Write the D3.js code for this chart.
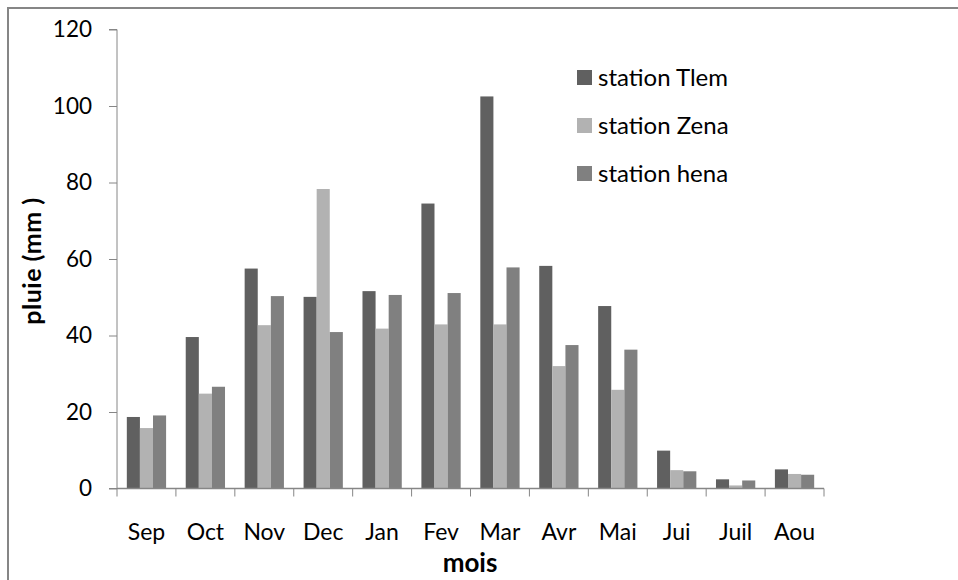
<!DOCTYPE html>
<html><head><meta charset="utf-8">
<script src="https://cdn.jsdelivr.net/npm/d3@7"></script>
<style>body{margin:0;background:#fff}svg{display:block}text{font-family:Lato,"Open Sans",sans-serif}</style>
</head><body><svg id="c" width="958" height="580"></svg>
<script>
const months = ["Sep","Oct","Nov","Dec","Jan","Fev","Mar","Avr","Mai","Jui","Juil","Aou"];
const seriesNames = ["station Tlem","station Zena","station hena"];
const tlem = [18.7,39.6,57.5,50.1,51.6,74.5,102.5,58.2,47.7,9.9,2.4,5.0];
const zena = [15.8,24.8,42.7,78.3,41.8,42.9,42.9,32.0,25.8,4.8,0.8,3.8];
const hena = [19.1,26.6,50.3,40.9,50.6,51.1,57.8,37.5,36.3,4.5,2.1,3.6];
const yTicks = [0,20,40,60,80,100,120];
const colors = ["#606060","#b2b2b2","#808080"];

const svg = d3.select("#c");
const series = [tlem, zena, hena];

// frame
svg.append("path").attr("d","M8,600V8H970").attr("fill","none").attr("stroke","#868686").attr("stroke-width",2);

const x = d3.scaleBand().domain(months).range([117,824]).paddingInner(0).paddingOuter(0);
const y = d3.scaleLinear().domain([0,120]).range([488.5,29.5]);
const xs = d3.scaleBand().domain([0,1,2]).range([0,x.bandwidth()]).paddingInner(0).paddingOuter(0.75);

// bars
months.forEach((m,i)=>{
  series.forEach((s,j)=>{
    svg.append("rect")
      .attr("x", x(m)+xs(j))
      .attr("y", y(s[i]))
      .attr("width", xs.bandwidth())
      .attr("height", y(0)-y(s[i]))
      .attr("fill", colors[j]);
  });
});

// y axis
const ya = svg.append("g").attr("transform","translate(117,0)")
  .call(d3.axisLeft(y).tickValues(yTicks).tickSize(8).tickPadding(17).tickFormat(d3.format("d")));
ya.select(".domain").attr("stroke","#868686").attr("d","M-8,29.5H0V488.5H-8");
ya.selectAll(".tick line").attr("stroke","#868686");
ya.selectAll(".tick text").attr("font-size",22.5).attr("fill","#000").attr("font-family","Lato");

// x axis
const xa = svg.append("g").attr("transform","translate(0,488.5)")
  .call(d3.axisBottom(x).tickSize(0).tickPadding(35));
xa.select(".domain").attr("stroke","#868686").attr("stroke-width",1.5).attr("d","M117,0H824");
xa.selectAll(".tick text").attr("font-size",23).attr("fill","#000").attr("font-family","Lato");
const bounds = months.map(m=>x(m)).concat([x.range()[1]]);
xa.selectAll(".bt").data(bounds).enter().append("line").attr("class","bt")
  .attr("x1",d=>d).attr("x2",d=>d).attr("y1",0).attr("y2",8).attr("stroke","#868686");

// axis titles
svg.append("text").attr("x",470).attr("y",572).attr("text-anchor","middle")
  .attr("font-size",26).attr("font-weight","bold").text("mois");
svg.append("text").attr("transform","translate(41,261) rotate(-90)").attr("text-anchor","middle")
  .attr("font-size",25).attr("font-weight","bold").attr("letter-spacing",0.5).text("pluie (mm )");

// legend
const lg = svg.append("g");
seriesNames.forEach((n,j)=>{
  const yy = 77 + j*48;
  lg.append("rect").attr("x",577).attr("y",yy-7).attr("width",15).attr("height",15).attr("fill",colors[j]);
  lg.append("text").attr("x",598).attr("y",yy+8.5).attr("font-size",24).text(n);
});
</script></body></html>
